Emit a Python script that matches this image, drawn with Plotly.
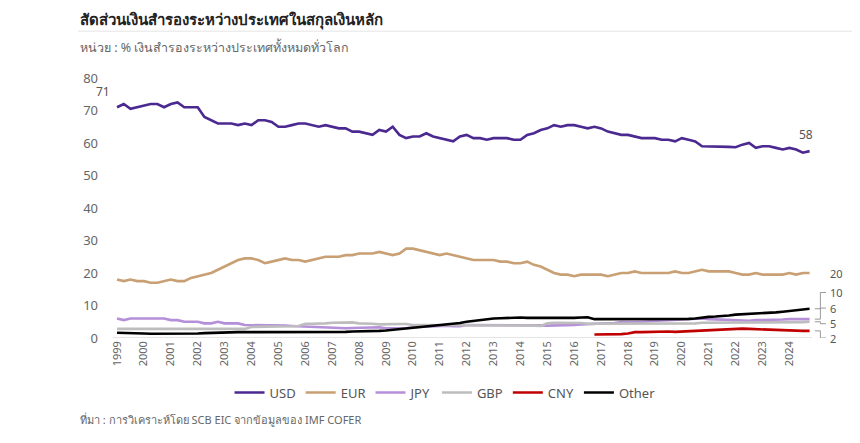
import plotly.graph_objects as go

years = list(range(1999, 2025))
usd = [71,72,70.5,71, 71.5,72,72,71, 72,72.5,71,71, 71,68,67,66, 66,66,65.5,66, 65.5,67,67,66.5,
       65,65,65.5,66, 66,65.5,65,65.5, 65,64.5,64.5,63.5, 63.5,63,62.5,64, 63.5,65,62.5,61.5,
       62,62,63,62, 61.5,61,60.5,62, 62.5,61.5,61.5,61, 61.5,61.5,61.5,61, 61,62.5,63,64,
       64.5,65.5,65,65.5, 65.5,65,64.5,65, 64.5,63.5,63,62.5, 62.5,62,61.5,61.5, 61.5,61,61,60.5,
       61.5,61,60.5,59, 59,59,59,58.8, 58.7,59.5,60,58.5, 59,59,58.5,58, 58.5,58,57,57.5]
eur = [18,17.5,18,17.5, 17.5,17,17,17.5, 18,17.5,17.5,18.5, 19,19.5,20,21, 22,23,24,24.5, 24.5,24,23,23.5,
       24,24.5,24,24, 23.5,24,24.5,25, 25,25,25.5,25.5, 26,26,26,26.5, 26,25.5,26,27.5,
       27.5,27,26.5,26, 25.5,26,25.5,25, 24.5,24,24,24, 24,23.5,23.5,23, 23,23.5,22.5,22,
       21,20,19.5,19.5, 19,19.5,19.5,19.5, 19.5,19,19.5,20, 20,20.5,20,20, 20,20,20,20.5,
       20,20,20.5,21, 20.5,20.5,20.5,20.5, 20,19.5,19.5,20, 19.5,19.5,19.5,19.5, 20,19.5,20,20]
jpy = [6,5.5,6,6, 6,6,6,6, 5.5,5.5,5,5, 5,4.5,4.5,5, 4.5,4.5,4.5,4, 4,4,4,4, 4,3.8,3.7,3.6,
       3.5,3.3,3.2,3.1, 3.2,3.1,3,3.1, 3.2,3.3,3.3,3.3, 3,3,3,3, 3.3,3.4,3.5,3.7, 3.7,3.8,3.6,3.6,
       4,4,4,4.1, 4,4,4,3.9, 4,3.9,3.9,3.9, 3.8,3.8,3.8,3.9, 4,4.2,4.3,4.2, 4.5,4.6,4.6,4.9,
       4.8,4.9,5,5.2, 5.3,5.4,5.5,5.6, 5.7,5.8,5.9,6, 5.8,5.7,5.6,5.5, 5.5,5.3,5.3,5.5,
       5.5,5.5,5.5,5.7, 5.8,5.8,5.8,5.8]
gbp = [2.8,2.8,2.9,2.9, 2.8,2.8,2.9,2.8, 2.7,2.8,2.8,2.9, 2.9,2.9,2.9,2.9, 2.8,2.8,2.8,2.8,
       3.4,3.4,3.4,3.4, 3.6,3.6,3.6,3.7, 4.4,4.4,4.4,4.5, 4.7,4.7,4.8,4.8, 4.5,4.5,4.4,4.2,
       4.3,4.3,4.3,4.3, 4.0,4.0,4.0,3.9, 3.8,3.8,3.8,3.8, 4.0,4.0,4.0,4.0, 3.9,3.9,3.9,3.9,
       3.8,3.8,3.8,3.7, 4.5,4.7,4.7,4.7, 4.6,4.6,4.4,4.4, 4.4,4.5,4.5,4.6, 4.5,4.5,4.5,4.4,
       4.6,4.6,4.6,4.6, 4.6,4.5,4.5,4.7, 4.7,4.8,4.8,4.9, 4.9,4.9,4.9,4.9, 4.9,4.9,4.9,4.8,
       4.9,4.9,4.9,5.0]
cny = [1.1, 1.1,1.1,1.1,1.2, 1.4,1.8,1.8,1.9, 1.9,2.0,2.0,1.9, 2.0,2.0,2.1,2.3,
       2.5,2.6,2.6,2.8, 2.9,2.9,2.8,2.7, 2.6,2.5,2.4,2.3, 2.3,2.2,2.2,2.2]
other = [1.6,1.6,1.5,1.5, 1.4,1.3,1.3,1.2, 1.2,1.3,1.3,1.4, 1.4,1.5,1.6,1.6, 1.8,1.8,1.8,1.8,
         1.8,1.8,1.8,1.8, 1.7,1.7,1.7,1.7, 1.7,1.7,1.8,1.8, 1.8,1.9,1.9,2.0, 2.0,2.1,2.0,2.2,
         2.3,2.5,2.7,3.0, 3.2,3.4,3.6,3.8, 4.0,4.2,4.4,4.6, 5.0,5.3,5.5,5.8, 6.0,6.1,6.2,6.3,
         6.3,6.2,6.2,6.1, 6.1,6.1,6.1,6.0, 6.2,6.3,6.4,5.8, 5.8,5.8,5.7,5.7, 5.8,5.9,5.7,5.8,
         5.7,5.7,5.7,5.8, 5.8,5.9,6.0,6.3, 6.5,6.6,6.7,6.9, 7.2,7.3,7.4,7.4, 7.6,7.7,7.9,8.1,
         8.3,8.6,8.8,9.0]
end_labels = ["20", "10", "6", "5", "2"]
end_values = [20, 9.0, 5.8, 5.0, 2.2]

xq = [y + q / 4 for y in years for q in range(4)]
x_cny = xq[len(xq) - len(cny):]

fig = go.Figure()
series = [("USD", xq, usd, "#4b2991"), ("EUR", xq, eur, "#c8a074"), ("JPY", xq, jpy, "#b58fd8"),
          ("GBP", xq, gbp, "#bdbdbd"), ("CNY", x_cny, cny, "#c00000"), ("Other", xq, other, "#000000")]
for name, xs, ys, c in series:
    fig.add_trace(go.Scatter(x=xs, y=ys, name=name, mode="lines", line=dict(color=c, width=2.6)))

fig.add_annotation(x=xq[0], y=usd[0], text=str(round(usd[0])), showarrow=False, yshift=16, xshift=-14,
                   font=dict(size=12, color="#555"))
fig.add_annotation(x=xq[-1], y=usd[-1], text=str(round(usd[-1])), showarrow=False, yshift=17, xshift=-4,
                   font=dict(size=12, color="#555"))
label_pos = [20, 14, 9.2, 4.4, 0]
for t, v, p in zip(end_labels, end_values, label_pos):
    fig.add_annotation(x=1, xref="paper", y=p, text=t, showarrow=False, xanchor="left", xshift=16,
                       font=dict(size=11, color="#555"))
    if t != "20":
        fig.add_shape(type="line", xref="paper", x0=1.004, x1=1.012, y0=v, y1=v, line=dict(color="#999", width=1))
        fig.add_shape(type="line", xref="paper", x0=1.012, x1=1.012, y0=v, y1=p, line=dict(color="#999", width=1))
        fig.add_shape(type="line", xref="paper", x0=1.012, x1=1.02, y0=p, y1=p, line=dict(color="#999", width=1))

fig.update_layout(
    width=860, height=443, plot_bgcolor="white", paper_bgcolor="white",
    margin=dict(l=105, r=56, t=70, b=113, autoexpand=False),
    font=dict(family="Noto Sans, sans-serif", color="#666"),
    legend=dict(orientation="h", x=0.475, xanchor="center", y=-0.21, yanchor="middle", font=dict(size=13, color="#555")),
    showlegend=True,
)
fig.add_annotation(text="<b>สัดส่วนเงินสำรองระหว่างประเทศในสกุลเงินหลัก</b>", xref="paper", yref="paper", x=-0.05, y=1.225,
                   xanchor="left", yanchor="middle", showarrow=False, font=dict(size=15, color="#222"))
fig.add_annotation(text="หน่วย : % เงินสำรองระหว่างประเทศทั้งหมดทั่วโลก", xref="paper", yref="paper", x=-0.05, y=1.12,
                   xanchor="left", yanchor="middle", showarrow=False, font=dict(size=12.5, color="#666"))
fig.add_annotation(text="ที่มา : การวิเคราะห์โดย SCB EIC จากข้อมูลของ IMF COFER", xref="paper", yref="paper", x=-0.05, y=-0.315,
                   xanchor="left", yanchor="middle", showarrow=False, font=dict(size=11, color="#666"))
fig.add_shape(type="line", xref="paper", yref="paper", x0=-0.05, x1=1.08, y0=1.18, y1=1.18, line=dict(color="#e5e5e5", width=1))
fig.update_xaxes(range=[1998.85, 2024.84], tickvals=years, ticktext=[str(y) for y in years], tickangle=-90,
                 showgrid=False, zeroline=False, automargin=False, tickfont=dict(size=11, color="#666"))
fig.update_yaxes(range=[0, 80], tickvals=list(range(0, 81, 10)), showgrid=False, zeroline=False, automargin=False,
                 showline=False, ticklabelstandoff=14, tickfont=dict(size=13, color="#666"))
fig.add_shape(type="line", xref="paper", x0=0, x1=1, y0=0, y1=0, line=dict(color="#ddd", width=1.5), layer="below")
fig.write_html("out.html")
